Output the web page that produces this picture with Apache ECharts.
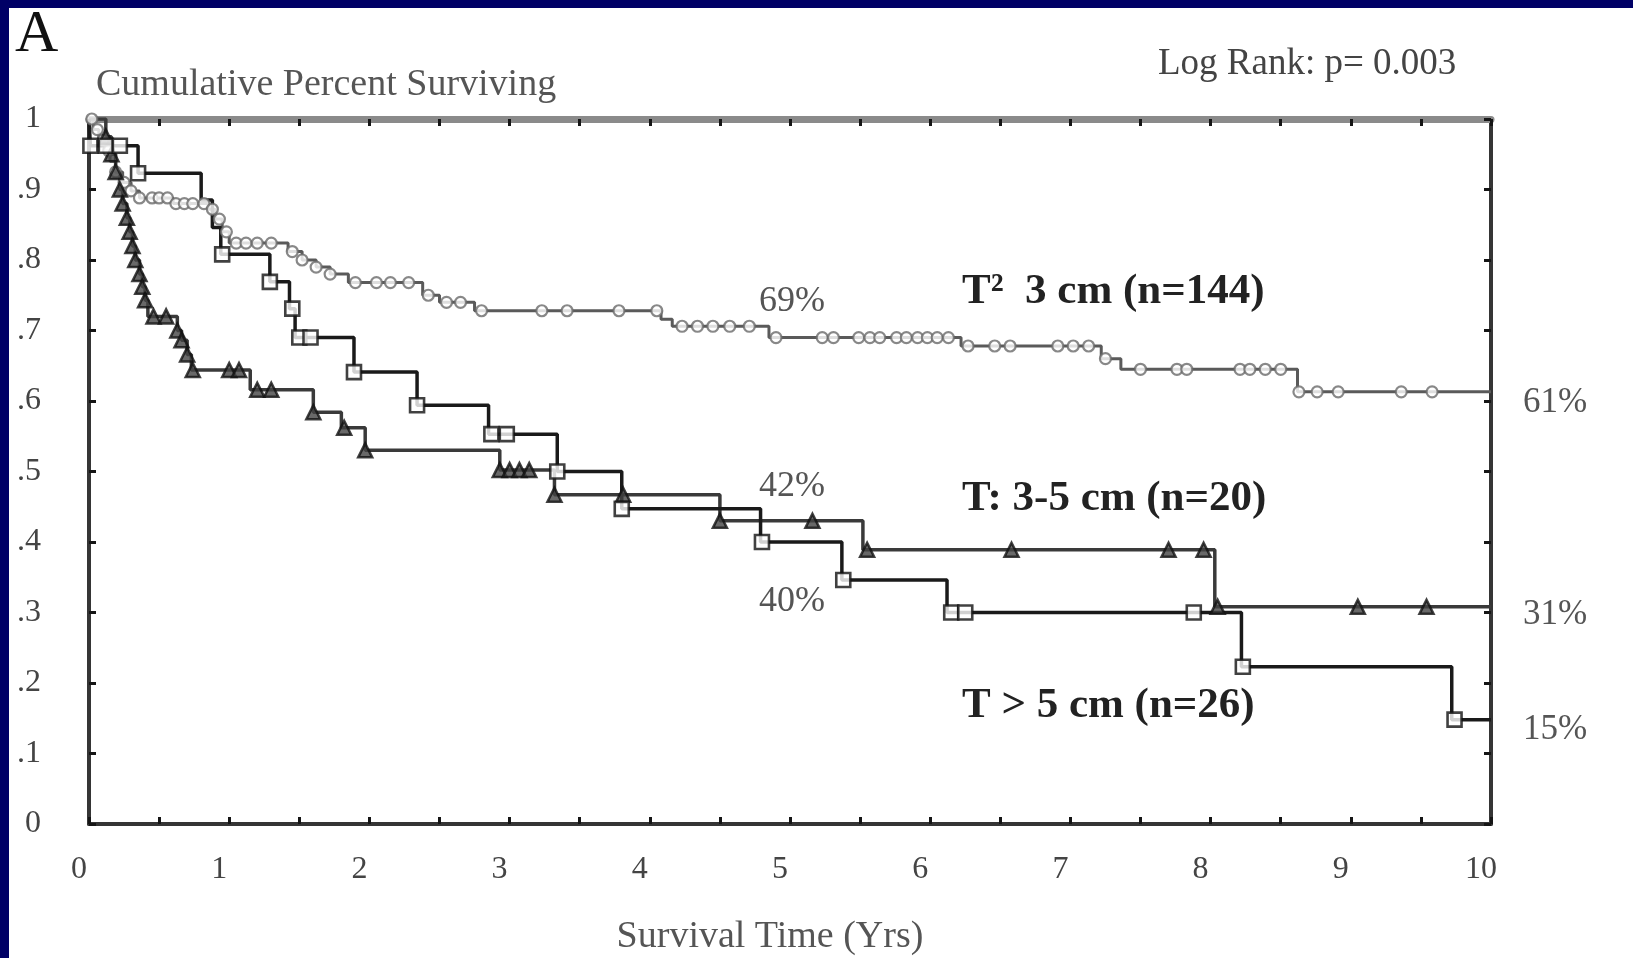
<!DOCTYPE html>
<html>
<head>
<meta charset="utf-8">
<script src="https://cdn.jsdelivr.net/npm/echarts@6/dist/echarts.min.js"></script>
<style>
html,body{margin:0;padding:0;background:#fff;}
#c{width:1633px;height:958px;}
</style>
</head>
<body>
<div id="c"></div>
<script>
// ---- data ----
const xTickLabels = ['0','1','2','3','4','5','6','7','8','9','10'];
const yTickLabels = ['0','.1','.2','.3','.4','.5','.6','.7','.8','.9','1'];

// T <= 3 cm (n=144) : circles
const t3Times = [0, 0.03, 0.07, 0.11, 0.15, 0.19, 0.24, 0.30, 0.36, 0.60, 0.85, 0.90, 0.95, 1.00, 1.42, 1.52, 1.62, 1.72, 1.85, 2.38, 2.50, 2.75, 4.08, 4.16, 4.85, 6.22, 7.22, 7.36, 8.62, 10];
const t3Surv  = [1, 0.985, 0.97, 0.955, 0.94, 0.925, 0.91, 0.898, 0.888, 0.88, 0.872, 0.858, 0.840, 0.824, 0.812, 0.800, 0.790, 0.780, 0.768, 0.750, 0.740, 0.728, 0.716, 0.706, 0.690, 0.678, 0.660, 0.645, 0.613, 0.613];
const t3Marks = [0.02, 0.06, 0.1, 0.14, 0.19, 0.25, 0.3, 0.36, 0.45, 0.5, 0.56, 0.62, 0.68, 0.74, 0.82, 0.88, 0.93, 0.98, 1.05, 1.12, 1.2, 1.3, 1.45, 1.52, 1.62, 1.72, 1.9, 2.05, 2.15, 2.28, 2.42, 2.55, 2.65, 2.8, 3.23, 3.41, 3.78, 4.05, 4.23, 4.34, 4.45, 4.57, 4.71, 4.9, 5.23, 5.31, 5.49, 5.57, 5.64, 5.76, 5.83, 5.91, 5.98, 6.05, 6.13, 6.27, 6.46, 6.57, 6.91, 7.02, 7.13, 7.25, 7.5, 7.76, 7.83, 8.21, 8.28, 8.39, 8.5, 8.63, 8.76, 8.91, 9.36, 9.58];

// triangles (42% at 5 yrs, 31% at 10 yrs)
const triTimes = [0, 0.12, 0.16, 0.19, 0.22, 0.24, 0.27, 0.29, 0.31, 0.33, 0.36, 0.38, 0.40, 0.42, 0.63, 0.66, 0.70, 0.73, 1.15, 1.60, 1.80, 1.97, 2.93, 3.32, 4.50, 5.52, 8.03, 10];
const triSurv  = [1, 0.975, 0.95, 0.925, 0.90, 0.88, 0.86, 0.84, 0.82, 0.80, 0.78, 0.762, 0.743, 0.72, 0.70, 0.686, 0.666, 0.644, 0.616, 0.584, 0.562, 0.53, 0.502, 0.467, 0.43, 0.389, 0.308, 0.308];
const triMarks = [0.12, 0.16, 0.19, 0.22, 0.24, 0.27, 0.29, 0.31, 0.33, 0.36, 0.38, 0.40, 0.46, 0.55, 0.63, 0.66, 0.70, 0.74, 1.0, 1.07, 1.2, 1.3, 1.6, 1.82, 1.97, 2.93, 3.0, 3.07, 3.14, 3.32, 3.81, 4.5, 5.16, 5.55, 6.58, 7.7, 7.95, 8.05, 9.05, 9.54];

// squares (40% at 5 yrs, 15% at 10 yrs)
const sqTimes = [0, 0.01, 0.35, 0.80, 0.88, 0.94, 1.29, 1.43, 1.47, 1.89, 2.34, 2.85, 3.34, 3.80, 4.79, 5.37, 6.12, 8.22, 9.72, 10];
const sqSurv  = [1, 0.962, 0.923, 0.885, 0.846, 0.808, 0.769, 0.731, 0.690, 0.641, 0.594, 0.553, 0.500, 0.447, 0.400, 0.346, 0.300, 0.223, 0.148, 0.148];
const sqMarks = [0.01, 0.12, 0.22, 0.35, 0.95, 1.29, 1.45, 1.5, 1.58, 1.89, 2.34, 2.87, 2.98, 3.34, 3.80, 4.8, 5.38, 6.15, 6.25, 7.88, 8.23, 9.74];

// ---- helpers ----
function stepAt(times, surv, t){ let v = surv[0]; for (let i=0;i<times.length;i++){ if (times[i] <= t + 1e-9) v = surv[i]; } return v; }
function pairs(times, surv){ return times.map((t,i)=>[t, surv[i]]); }
function marks(times, surv, m){ return m.map(t=>[t, stepAt(times, surv, t)]); }

const serif = '"Liberation Serif", "DejaVu Serif", serif';
const chart = echarts.init(document.getElementById('c'), null, {renderer:'canvas'});

const tickStyle = {color:'#151515', width:3};
function baseX(pos, lineColor, lineWidth, showLabel){
  return {
    type:'value', position:pos, min:0, max:10, interval:1,
    axisLine:{show:true, onZero:false, lineStyle:{color:lineColor, width:lineWidth}},
    axisTick:{show:true, inside:true, length:7, lineStyle:tickStyle},
    minorTick:{show:true, splitNumber:2, length:7, lineStyle:tickStyle},
    splitLine:{show:false}, minorSplitLine:{show:false},
    axisLabel:{show:showLabel, fontFamily:serif, fontSize:32, color:'#444', margin:30,
      padding:[0,20,0,0],
      formatter:(v)=> xTickLabels[Math.round(v)]}
  };
}
function baseY(pos, showLabel){
  return {
    type:'value', position:pos, min:0, max:1, interval:0.1,
    axisLine:{show:true, onZero:false, lineStyle:{color:'#353535', width:4}},
    axisTick:{show:true, inside:true, length:7, lineStyle:tickStyle},
    splitLine:{show:false},
    axisLabel:{show:showLabel, fontFamily:serif, fontSize:32, color:'#444', margin:48,
      formatter:(v)=> yTickLabels[Math.round(v*10)]}
  };
}

function txt(text, x, y, size, opts){
  opts = opts || {};
  return {type:'text', z:100, style:{text:text, x:x, y:y,
    fontFamily:serif, fontSize:size, fontWeight: opts.bold ? 'bold' : 'normal',
    fill: opts.fill || '#222',
    align: opts.align || 'left', textAlign: opts.align || 'left',
    verticalAlign:'middle', textVerticalAlign:'middle'}};
}

const option = {
  backgroundColor:'#ffffff',
  animation:false,
  grid:{left:89, right:142, top:119, bottom:134, containLabel:false},
  xAxis:[ baseX('bottom', '#353535', 4, true), baseX('top', '#8a8a8a', 7, false) ],
  yAxis:[ baseY('left', true), baseY('right', false) ],
  series:[
    {type:'line', step:'end', data:pairs(t3Times, t3Surv), showSymbol:false, symbol:'none',
      lineStyle:{color:'#5a5a5a', width:3}, z:2},
    {type:'line', step:'end', data:pairs(triTimes, triSurv), showSymbol:false, symbol:'none',
      lineStyle:{color:'#3a3a3a', width:3.5}, z:3},
    {type:'line', step:'end', data:pairs(sqTimes, sqSurv), showSymbol:false, symbol:'none',
      lineStyle:{color:'#1a1a1a', width:3.5}, z:3},
    {type:'scatter', data:marks(t3Times, t3Surv, t3Marks), symbol:'circle', symbolSize:11, clip:false,
      itemStyle:{color:'#ffffff', borderColor:'#6a6a6a', borderWidth:2.2}, z:4},
    {type:'scatter', data:marks(triTimes, triSurv, triMarks), symbol:'triangle', symbolSize:14, clip:false,
      itemStyle:{color:'#444', borderColor:'#111', borderWidth:2.5}, z:5},
    {type:'scatter', data:marks(sqTimes, sqSurv, sqMarks), symbol:'rect', symbolSize:14, clip:false,
      itemStyle:{color:'#ffffff', borderColor:'#111', borderWidth:2.6}, z:5}
  ],
  graphic:[
    {type:'rect', shape:{x:0, y:0, width:1633, height:8}, style:{fill:'#000066'}, z:200},
    {type:'rect', shape:{x:0, y:0, width:9, height:958}, style:{fill:'#000066'}, z:200},
    txt('A', 15, 35, 60, {fill:'#111'}),
    txt('Cumulative Percent Surviving', 96, 85, 38, {fill:'#555'}),
    txt('Log Rank: p= 0.003', 1158, 64, 37, {fill:'#444'}),
    txt('T\u00B2  3 cm (n=144)', 962, 292, 43, {bold:true, fill:'#222'}),
    txt('T: 3-5 cm (n=20)', 962, 499, 43, {bold:true, fill:'#222'}),
    txt('T > 5 cm (n=26)', 962, 706, 43, {bold:true, fill:'#222'}),
    txt('69%', 792, 302, 36, {align:'center', fill:'#555'}),
    txt('42%', 792, 487, 36, {align:'center', fill:'#555'}),
    txt('40%', 792, 602, 36, {align:'center', fill:'#555'}),
    txt('61%', 1523, 403, 35, {fill:'#555'}),
    txt('31%', 1523, 615, 35, {fill:'#555'}),
    txt('15%', 1523, 730, 35, {fill:'#555'}),
    txt('Survival Time (Yrs)', 770, 937, 38, {align:'center', fill:'#555'})
  ]
};
chart.setOption(option);
</script>
</body>
</html>
